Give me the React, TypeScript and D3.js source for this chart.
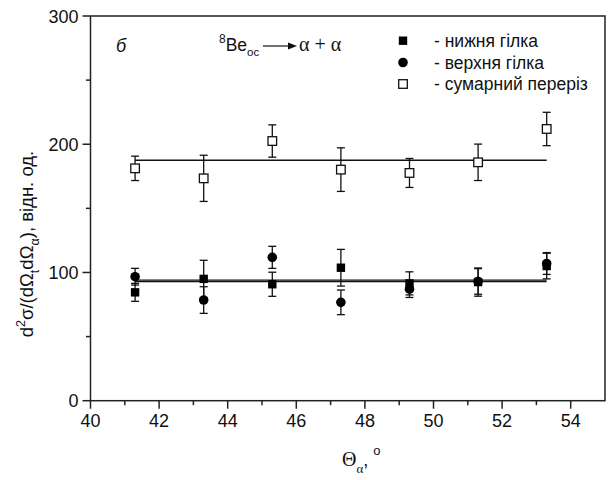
import React from "react";
import * as d3 from "d3";

const angles = [41.3, 43.3, 45.3, 47.3, 49.3, 51.3, 53.3];
const lowerVals = [84.5, 95, 90.8, 103.7, 91.5, 92.5, 105];
const lowerErr = [7, 14.5, 9.4, 14.3, 9, 11, 10];
const upperVals = [96.7, 78.5, 111.8, 76.7, 87, 93, 107];
const upperErr = [6.5, 10.4, 8.6, 9.6, 6.5, 10, 8.5];
const totalVals = [181.2, 173.4, 202.5, 180.2, 177.6, 185.9, 211.9];
const totalErr = [9.5, 18, 12.6, 17, 11.3, 14.2, 13];
const fitLower = 94.1;
const fitUpper = 92.8;
const fitTotal = 187.5;
const xTicks = [40, 42, 44, 46, 48, 50, 52, 54];
const xMinor = [41, 43, 45, 47, 49, 51, 53];
const yTicks = [0, 100, 200, 300];
const yMinor = [50, 150, 250];
const legendLabels = ["- нижня гілка", "- верхня гілка", "- сумарний переріз"];

const W = 610, H = 480;
const L = 90.5, R = 605, T = 16, B = 400.7;

export default function App() {
  const x = d3.scaleLinear().domain([40, 55]).range([L, R]);
  const y = d3.scaleLinear().domain([0, 300]).range([B, T]);
  const font = "'Liberation Sans', Arial, sans-serif";
  const serif = "'Liberation Serif', 'Times New Roman', serif";
  const ax = "#222";
  const cap = 4;

  const errBars = (vals: number[], errs: number[], key: string) =>
    angles.map((a, i) => (
      <g key={key + i} stroke="#111" strokeWidth={1.3}>
        <line x1={x(a)} x2={x(a)} y1={y(vals[i] - errs[i])} y2={y(vals[i] + errs[i])} />
        <line x1={x(a) - cap} x2={x(a) + cap} y1={y(vals[i] - errs[i])} y2={y(vals[i] - errs[i])} />
        <line x1={x(a) - cap} x2={x(a) + cap} y1={y(vals[i] + errs[i])} y2={y(vals[i] + errs[i])} />
      </g>
    ));

  const fitPath = (v: number) =>
    d3.line<number>().x((d) => x(d)).y(() => y(v))([angles[0], angles[angles.length - 1]]) || "";

  return (
    <svg width={W} height={H} style={{ position: "absolute", left: 0, top: 0, background: "#fff" }} fontFamily={font}>
      <rect width={W} height={H} fill="#fff" />
      {/* frame */}
      <rect x={L} y={T} width={R - L} height={B - T} fill="none" stroke={ax} strokeWidth={1.5} />
      {/* x ticks */}
      {xTicks.map((t) => (
        <g key={"xt" + t}>
          <line x1={x(t)} x2={x(t)} y1={B} y2={B + 8} stroke={ax} strokeWidth={1.5} />
          <text x={x(t)} y={B + 26.5} fontSize={18} textAnchor="middle" fill="#111">{t}</text>
        </g>
      ))}
      {xMinor.map((t) => (
        <line key={"xm" + t} x1={x(t)} x2={x(t)} y1={B} y2={B + 4.5} stroke={ax} strokeWidth={1.5} />
      ))}
      {yTicks.map((t) => (
        <g key={"yt" + t}>
          <line x1={L - 8} x2={L} y1={y(t)} y2={y(t)} stroke={ax} strokeWidth={1.5} />
          <text x={L - 12} y={y(t) + 6.5} fontSize={18} textAnchor="end" fill="#111">{t}</text>
        </g>
      ))}
      {yMinor.map((t) => (
        <line key={"ym" + t} x1={L - 4.5} x2={L} y1={y(t)} y2={y(t)} stroke={ax} strokeWidth={1.5} />
      ))}

      {/* fit lines */}
      <path d={fitPath(fitTotal)} stroke="#111" strokeWidth={1.5} fill="none" />
      <path d={fitPath(fitLower)} stroke="#111" strokeWidth={1.3} fill="none" />
      <path d={fitPath(fitUpper)} stroke="#111" strokeWidth={1.3} fill="none" />

      {/* error bars */}
      {errBars(totalVals, totalErr, "te")}
      {errBars(lowerVals, lowerErr, "le")}
      {errBars(upperVals, upperErr, "ue")}

      {/* markers */}
      {angles.map((a, i) => (
        <rect key={"ts" + i} x={x(a) - 4.3} y={y(totalVals[i]) - 4.3} width={8.6} height={8.6} fill="#fff" stroke="#111" strokeWidth={1.3} />
      ))}
      {angles.map((a, i) => (
        <rect key={"ls" + i} x={x(a) - 4.2} y={y(lowerVals[i]) - 4.2} width={8.4} height={8.4} fill="#000" />
      ))}
      {angles.map((a, i) => (
        <circle key={"uc" + i} cx={x(a)} cy={y(upperVals[i])} r={4.8} fill="#000" />
      ))}

      {/* legend */}
      <rect x={398.8} y={36.5} width={8.4} height={8.4} fill="#000" />
      <circle cx={403} cy={62.5} r={4.8} fill="#000" />
      <rect x={398.7} y={79.7} width={8.6} height={8.6} fill="#fff" stroke="#111" strokeWidth={1.3} />
      {legendLabels.map((s, i) => (
        <text key={"lg" + i} x={434} y={47 + i * 21.5} fontSize={17.5} fill="#111">{s}</text>
      ))}

      {/* panel label */}
      <text x={116} y={52} fontSize={18} fontStyle="italic" fill="#111">б</text>

      {/* reaction */}
      <text x={219} y={51} fontSize={17.5} fill="#111">
        <tspan fontSize={12} dy={-8}>8</tspan>
        <tspan dy={8}>Be</tspan>
        <tspan fontSize={11.5} dy={5}>ос</tspan>
      </text>
      <line x1={263} x2={290} y1={46} y2={46} stroke="#111" strokeWidth={1.2} />
      <path d="M297,46 L288,42.5 L288,49.5 Z" fill="#111" />
      <text x={299} y={51} fontSize={20} fontFamily={serif} fill="#111">α + α</text>

      {/* y label */}
      <text transform="translate(33,244) rotate(-90)" textAnchor="middle" fontSize={18.5} fill="#111">
        <tspan>d</tspan>
        <tspan fontSize={12.5} dy={-8}>2</tspan>
        <tspan dy={8}>σ/(dΩ</tspan>
        <tspan fontSize={12.5} dy={6}>t</tspan>
        <tspan dy={-6}>dΩ</tspan>
        <tspan fontSize={12.5} dy={6}>α</tspan>
        <tspan dy={-6}>), відн. од.</tspan>
      </text>

      {/* x label */}
      <text x={342} y={466} fontSize={20} fontFamily={serif} fill="#111">
        <tspan>Θ</tspan>
        <tspan fontSize={13} dy={7}>α</tspan>
        <tspan dy={-7} fontFamily={font} fontSize={18}>,</tspan>
        <tspan fontSize={13} dy={-11} dx={5} fontFamily={font}>o</tspan>
      </text>
    </svg>
  );
}
